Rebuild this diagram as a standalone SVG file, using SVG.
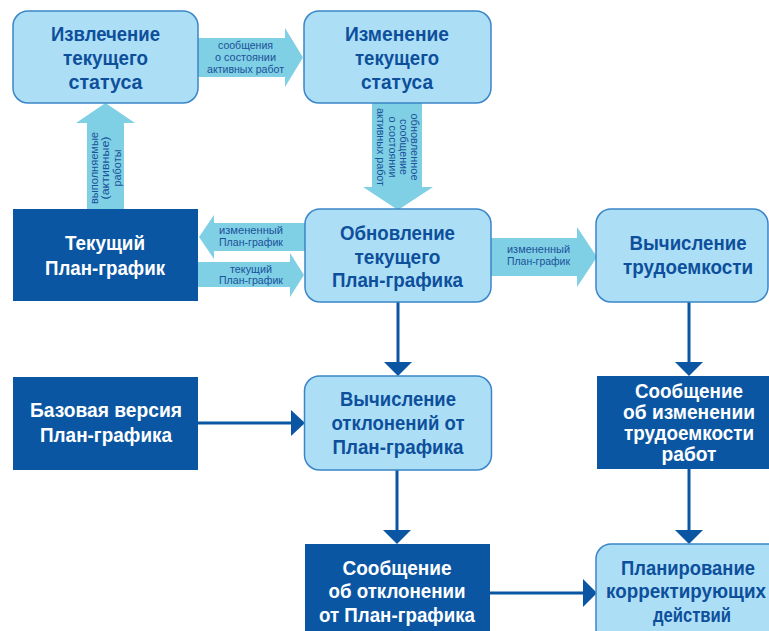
<svg xmlns="http://www.w3.org/2000/svg" width="769" height="631" viewBox="0 0 769 631">
<style>
.lb{fill:#acdff6;stroke:#3a86c8;stroke-width:1.5}
.db{fill:#0a56a3}
.arr{fill:#7fcfe5}
.t{font-family:"Liberation Sans",Arial,sans-serif;font-weight:bold;font-size:20.5px;text-anchor:middle;fill:#0e4f9c}
.tw{fill:#ffffff}
.s{font-family:"Liberation Sans",Arial,sans-serif;font-size:11px;text-anchor:middle;fill:#1b5299}
.ln{stroke:#0a56a3;stroke-width:3;fill:none}
.ah{fill:#0a56a3}
</style>
<rect width="769" height="631" fill="#ffffff"/>
<g id="connectors">
  <polygon class="arr" points="198,38 285,38 285,28 303,57.5 285,87 285,77 198,77"/>
  <polygon class="arr" points="372,103 422,103 422,187 433,187 398,210 363,187 372,187"/>
  <polygon class="arr" points="87,209 87,123 76,123 105.5,103 135,123 124,123 124,209"/>
  <polygon class="arr" points="305,223 214,223 214,215 199,237 214,259 214,251 305,251"/>
  <polygon class="arr" points="198,262 290,262 290,253 304,275 290,297 290,287 198,287"/>
  <polygon class="arr" points="491,238 577,238 577,227 597,257 577,287 577,276 491,276"/>
  <text class="s"><tspan x="245.5" y="49" textLength="55" lengthAdjust="spacingAndGlyphs">сообщения</tspan><tspan x="245.5" y="61" textLength="61" lengthAdjust="spacingAndGlyphs">о состоянии</tspan><tspan x="245.5" y="73" textLength="77" lengthAdjust="spacingAndGlyphs">активных работ</tspan></text>
  <g transform="translate(397,147) rotate(90)">
    <text class="s"><tspan x="0" y="-13.5" textLength="67" lengthAdjust="spacingAndGlyphs">обновленное</tspan><tspan x="0" y="-2.5" textLength="56" lengthAdjust="spacingAndGlyphs">сообщение</tspan><tspan x="0" y="8.5" textLength="61" lengthAdjust="spacingAndGlyphs">о состоянии</tspan><tspan x="0" y="20" textLength="78" lengthAdjust="spacingAndGlyphs">активных работ</tspan></text>
  </g>
  <g transform="translate(105.5,168) rotate(-90)">
    <text class="s"><tspan x="0" y="-8" textLength="72" lengthAdjust="spacingAndGlyphs">выполняемые</tspan><tspan x="0" y="3.5" textLength="63" lengthAdjust="spacingAndGlyphs">(активные)</tspan><tspan x="0" y="15" textLength="37" lengthAdjust="spacingAndGlyphs">работы</tspan></text>
  </g>
  <text class="s"><tspan x="251" y="234" textLength="64" lengthAdjust="spacingAndGlyphs">измененный</tspan><tspan x="251" y="246" textLength="64" lengthAdjust="spacingAndGlyphs">План-график</tspan></text>
  <text class="s"><tspan x="251" y="273" textLength="42" lengthAdjust="spacingAndGlyphs">текущий</tspan><tspan x="251" y="284" textLength="64" lengthAdjust="spacingAndGlyphs">План-график</tspan></text>
  <text class="s"><tspan x="538.5" y="253" textLength="63" lengthAdjust="spacingAndGlyphs">измененный</tspan><tspan x="538.5" y="265" textLength="63" lengthAdjust="spacingAndGlyphs">План-график</tspan></text>
  <line class="ln" x1="398" y1="302" x2="398" y2="364"/>
  <polygon class="ah" points="384,362 412,362 398,376"/>
  <line class="ln" x1="689" y1="302" x2="689" y2="364"/>
  <polygon class="ah" points="675,362 703,362 689,376"/>
  <line class="ln" x1="397" y1="470" x2="397" y2="532"/>
  <polygon class="ah" points="383,530 411,530 397,544"/>
  <line class="ln" x1="689" y1="469" x2="689" y2="532"/>
  <polygon class="ah" points="675,530 703,530 689,544"/>
  <line class="ln" x1="198" y1="423" x2="293" y2="423"/>
  <polygon class="ah" points="291,410 291,436 305,423"/>
  <line class="ln" x1="490" y1="593" x2="585" y2="593"/>
  <polygon class="ah" points="583,579 583,607 597,593"/>
</g>
<g id="n1">
  <rect class="lb" x="13" y="11" width="185" height="92" rx="15"/>
  <text class="t"><tspan x="105.5" y="41" textLength="109" lengthAdjust="spacingAndGlyphs">Извлечение</tspan><tspan x="105.5" y="65" textLength="85" lengthAdjust="spacingAndGlyphs">текущего</tspan><tspan x="105.5" y="89" textLength="74" lengthAdjust="spacingAndGlyphs">статуса</tspan></text>
</g>
<g id="n2">
  <rect class="lb" x="304" y="11" width="187" height="92" rx="15"/>
  <text class="t"><tspan x="397" y="41" textLength="104" lengthAdjust="spacingAndGlyphs">Изменение</tspan><tspan x="397" y="65" textLength="84" lengthAdjust="spacingAndGlyphs">текущего</tspan><tspan x="397" y="89" textLength="72" lengthAdjust="spacingAndGlyphs">статуса</tspan></text>
</g>
<g id="n3">
  <rect class="db" x="13" y="209" width="185" height="92"/>
  <text class="t tw"><tspan x="105" y="250" textLength="80" lengthAdjust="spacingAndGlyphs">Текущий</tspan><tspan x="105" y="275" textLength="120" lengthAdjust="spacingAndGlyphs">План-график</tspan></text>
</g>
<g id="n4">
  <rect class="lb" x="305" y="209" width="186" height="93" rx="15"/>
  <text class="t"><tspan x="397.5" y="240" textLength="115" lengthAdjust="spacingAndGlyphs">Обновление</tspan><tspan x="397.5" y="264" textLength="86" lengthAdjust="spacingAndGlyphs">текущего</tspan><tspan x="397.5" y="287" textLength="131" lengthAdjust="spacingAndGlyphs">План-графика</tspan></text>
</g>
<g id="n5">
  <rect class="lb" x="596" y="209" width="172" height="93" rx="15"/>
  <text class="t"><tspan x="688" y="250" textLength="117" lengthAdjust="spacingAndGlyphs">Вычисление</tspan><tspan x="688" y="274" textLength="130" lengthAdjust="spacingAndGlyphs">трудоемкости</tspan></text>
</g>
<g id="n6">
  <rect class="db" x="13" y="377" width="185" height="93"/>
  <text class="t tw"><tspan x="106" y="417" textLength="152" lengthAdjust="spacingAndGlyphs">Базовая версия</tspan><tspan x="106" y="442" textLength="132" lengthAdjust="spacingAndGlyphs">План-графика</tspan></text>
</g>
<g id="n7">
  <rect class="lb" x="304.5" y="376" width="187" height="94" rx="15"/>
  <text class="t"><tspan x="398" y="406" textLength="116" lengthAdjust="spacingAndGlyphs">Вычисление</tspan><tspan x="398" y="430" textLength="133" lengthAdjust="spacingAndGlyphs">отклонений от</tspan><tspan x="398" y="454" textLength="131" lengthAdjust="spacingAndGlyphs">План-графика</tspan></text>
</g>
<g id="n8">
  <rect class="db" x="597" y="376" width="172" height="93"/>
  <text class="t tw"><tspan x="689" y="398" textLength="108" lengthAdjust="spacingAndGlyphs">Сообщение</tspan><tspan x="689" y="419" textLength="132" lengthAdjust="spacingAndGlyphs">об изменении</tspan><tspan x="689" y="440" textLength="130" lengthAdjust="spacingAndGlyphs">трудоемкости</tspan><tspan x="689" y="461" textLength="55" lengthAdjust="spacingAndGlyphs">работ</tspan></text>
</g>
<g id="n9">
  <rect class="db" x="305" y="544" width="185" height="100"/>
  <text class="t tw"><tspan x="397" y="575" textLength="109" lengthAdjust="spacingAndGlyphs">Сообщение</tspan><tspan x="397" y="598" textLength="137" lengthAdjust="spacingAndGlyphs">об отклонении</tspan><tspan x="397" y="622" textLength="156" lengthAdjust="spacingAndGlyphs">от План-графика</tspan></text>
</g>
<g id="n10">
  <rect class="lb" x="596" y="544" width="190" height="100" rx="15"/>
  <text class="t"><tspan x="688" y="575" textLength="134" lengthAdjust="spacingAndGlyphs">Планирование</tspan><tspan x="686" y="598" textLength="160" lengthAdjust="spacingAndGlyphs">корректирующих</tspan><tspan x="692" y="622" textLength="78" lengthAdjust="spacingAndGlyphs">действий</tspan></text>
</g>
</svg>
